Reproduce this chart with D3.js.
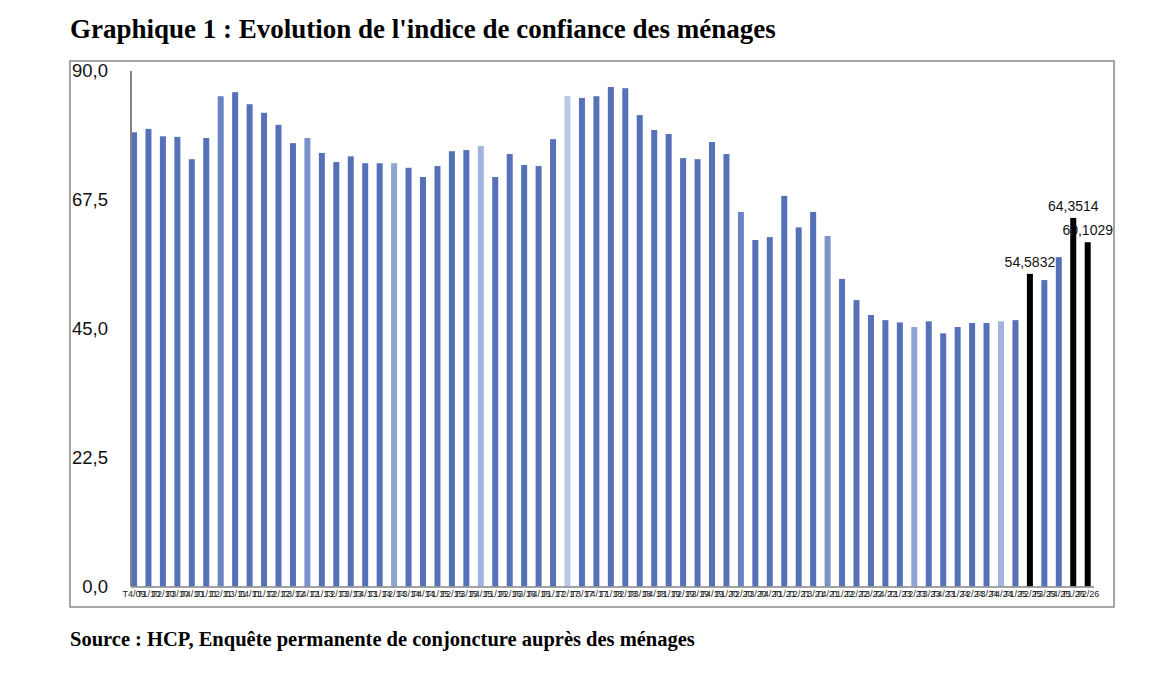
<!DOCTYPE html>
<html>
<head>
<meta charset="utf-8">
<script src="https://cdn.jsdelivr.net/npm/d3@7"></script>
<style>
    body { margin: 0; background: #fff; }
    .title { font-family: "Liberation Serif", serif; font-weight: bold; }
</style>
</head>
<body>
<div id="chart"></div>
<script>
// quarters, T4/09 -> T2/26
var quarters = [
    "T4/09",
    "T1/10", "T2/10", "T3/10", "T4/10",
    "T1/11", "T2/11", "T3/11", "T4/11",
    "T1/12", "T2/12", "T3/12", "T4/12",
    "T1/13", "T2/13", "T3/13", "T4/13",
    "T1/14", "T2/14", "T3/14", "T4/14",
    "T1/15", "T2/15", "T3/15", "T4/15",
    "T1/16", "T2/16", "T3/16", "T4/16",
    "T1/17", "T2/17", "T3/17", "T4/17",
    "T1/18", "T2/18", "T3/18", "T4/18",
    "T1/19", "T2/19", "T3/19", "T4/19",
    "T1/20", "T2/20", "T3/20", "T4/20",
    "T1/21", "T2/21", "T3/21", "T4/21",
    "T1/22", "T2/22", "T3/22", "T4/22",
    "T1/23", "T2/23", "T3/23", "T4/23",
    "T1/24", "T2/24", "T3/24", "T4/24",
    "T1/25", "T2/25", "T3/25", "T4/25",
    "T1/26", "T2/26"
];

// indice de confiance des ménages
var indice = [
    79.3, 79.9, 78.6, 78.5, 74.6, 78.3, 85.6, 86.3, 84.2, 82.7,
    80.6, 77.4, 78.3, 75.7, 74.1, 75.1, 73.9, 73.9, 73.9, 73.1,
    71.5, 73.4, 76.0, 76.2, 76.9, 71.5, 75.5, 73.6, 73.4, 78.1,
    85.6, 85.3, 85.6, 87.2, 87.0, 82.3, 79.7, 79.0, 74.8, 74.6,
    77.6, 75.5, 65.4, 60.5, 61.0, 68.2, 62.7, 65.4, 61.2, 53.7,
    50.0, 47.4, 46.5, 46.1, 45.3, 46.3, 44.2, 45.3, 46.0, 46.0,
    46.3, 46.5, 54.5832, 53.5, 57.5, 64.3514, 60.1029
];

// bars carrying a value label
var labelled = ["T2/25", "T1/26", "T2/26"];

var yTicks = [0, 22.5, 45, 67.5, 90];

// bar shades (position in series -> colour)
var baseColor = "#5571b7";
var shades = {
    6: "#6a84c2", 12: "#7a92ca", 18: "#8fa5d6", 24: "#a1b3de", 30: "#b9c8e8",
    42: "#6a84c0", 48: "#7a92c9", 54: "#8fa5d6", 60: "#a1b3de",
    62: "#000000", 65: "#000000", 66: "#000000"
};

function init() {
    var W = 1151, H = 680;
    var plot = {left: 131, right: 1094, top: 71, bottom: 586.5};

    var dataset = quarters.map(function(q, i) {
        return {q: q, v: indice[i], i: i};
    });

    var svg = d3.select("#chart")
        .append("svg")
        .attr("width", W)
        .attr("height", H);

    svg.append("text")
        .attr("class", "title")
        .attr("x", 70)
        .attr("y", 38)
        .style("font-size", "27px")
        .text("Graphique 1 : Evolution de l'indice de confiance des ménages");

    // frame
    svg.append("rect")
        .attr("x", 70)
        .attr("y", 61)
        .attr("width", 1044)
        .attr("height", 546)
        .attr("fill", "none")
        .attr("stroke", "#8a8a8a")
        .attr("stroke-width", 1.5);

    var step = 14.45;
    var xScale = d3.scaleBand()
        .domain(quarters)
        .range([134 - step / 2, 134 - step / 2 + step * quarters.length])
        .paddingInner(0.585)
        .paddingOuter(0.2925);

    var yScale = d3.scaleLinear()
        .domain([0, 90])
        .range([plot.bottom, plot.top]);

    // y axis labels
    var yAxis = svg.append("g")
        .attr("transform", "translate(110,0)")
        .call(d3.axisLeft(yScale)
            .tickValues(yTicks)
            .tickSize(0)
            .tickPadding(2)
            .tickFormat(function(d) { return d3.format(".1f")(d).replace(".", ","); }));
    yAxis.select(".domain").remove();
    yAxis.selectAll("text")
        .style("font-family", "'Liberation Sans', sans-serif")
        .style("font-size", "18.5px")
        .attr("fill", "#111");

    // bars
    svg.append("g")
        .selectAll("rect")
        .data(dataset)
        .enter()
        .append("rect")
        .attr("x", function(d) { return xScale(d.q); })
        .attr("y", function(d) { return yScale(d.v); })
        .attr("width", xScale.bandwidth())
        .attr("height", function(d) { return yScale(0) - yScale(d.v); })
        .attr("fill", function(d) { return shades[d.i] || baseColor; });

    // axis lines
    svg.append("line")
        .attr("x1", plot.left).attr("x2", plot.left)
        .attr("y1", yScale(90)).attr("y2", yScale(0))
        .attr("stroke", "#858585")
        .attr("stroke-width", 2);
    svg.append("line")
        .attr("x1", plot.left).attr("x2", plot.right)
        .attr("y1", yScale(0) + 0.5).attr("y2", yScale(0) + 0.5)
        .attr("stroke", "#858585")
        .attr("stroke-width", 1.5);

    // x labels (they overlap, as in the original)
    svg.append("g")
        .selectAll("text")
        .data(quarters)
        .enter()
        .append("text")
        .attr("x", function(d) { return xScale(d) + xScale.bandwidth() / 2; })
        .attr("y", yScale(0) + 10)
        .attr("text-anchor", "middle")
        .style("font-family", "'Liberation Sans', sans-serif")
        .style("font-size", "9px")
        .attr("fill", "#222")
        .text(function(d) { return d; });

    // value labels
    svg.append("g")
        .selectAll("text")
        .data(dataset.filter(function(d) { return labelled.indexOf(d.q) >= 0; }))
        .enter()
        .append("text")
        .attr("x", function(d) { return xScale(d.q) + xScale.bandwidth() / 2; })
        .attr("y", function(d) { return yScale(d.v) - 7; })
        .attr("text-anchor", "middle")
        .style("font-family", "'Liberation Sans', sans-serif")
        .style("font-size", "14px")
        .attr("fill", "#111")
        .text(function(d) { return String(d.v).replace(".", ","); });

    svg.append("text")
        .attr("class", "title")
        .attr("x", 70)
        .attr("y", 646)
        .style("font-size", "20.5px")
        .text("Source : HCP, Enquête permanente de conjoncture auprès des ménages");
}

window.onload = init;
</script>
</body>
</html>
